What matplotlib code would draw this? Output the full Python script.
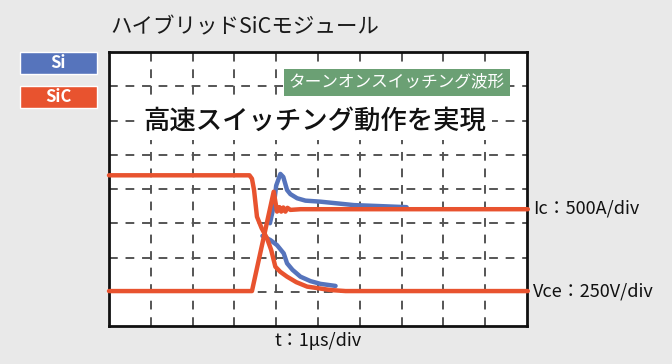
import matplotlib
matplotlib.use("Agg")
import matplotlib.pyplot as plt
import numpy as np

plt.rcParams['font.family'] = ['Noto Sans CJK JP', 'DejaVu Sans']

# waveforms, x in divisions (1us/div), y in divisions from bottom
sic_vce_t = [0, 3.36, 3.42, 3.47, 3.54, 3.65, 3.78, 3.88, 3.98, 4.10, 4.26, 4.48, 4.74, 5.30, 5.66, 10.02]
sic_vce_y = [4.40, 4.40, 4.30, 3.97, 3.19, 2.86, 2.56, 2.22, 1.73, 1.58, 1.44, 1.28, 1.15, 1.05, 1.02, 1.02]

si_vce_t = [3.67, 3.86, 4.02, 4.18, 4.26, 4.39, 4.58, 4.82, 5.06, 5.42]
si_vce_y = [2.63, 2.51, 2.36, 2.12, 1.83, 1.64, 1.44, 1.31, 1.23, 1.17]

sic_ic_t = [0, 3.42, 3.94, 4.02, 4.08, 4.12, 4.17, 4.22, 4.27, 4.34, 4.58, 10.02]
sic_ic_y = [1.02, 1.02, 3.92, 3.34, 3.47, 3.34, 3.46, 3.34, 3.45, 3.39, 3.41, 3.41]

si_ic_t = [3.85, 3.94, 4.00, 4.10, 4.17, 4.26, 4.34, 4.50, 4.70, 5.06, 5.86, 6.50, 7.12]
si_ic_y = [3.00, 3.50, 4.10, 4.44, 4.35, 3.97, 3.85, 3.73, 3.66, 3.63, 3.53, 3.50, 3.47]

red = '#E8532F'
blue = '#5674BC'
green = '#6BA074'

fig = plt.figure(figsize=(6.72, 3.64), dpi=100)
fig.patch.set_facecolor('#E9E9E9')

ax = fig.add_axes([109/672, 38/364, 418/672, 274/364])
ax.set_facecolor('white')
ax.set_xlim(0, 10)
ax.set_ylim(0, 8)
for s in ax.spines.values():
    s.set_linewidth(2)
    s.set_color('#111111')
ax.set_xticks([])
ax.set_yticks([])

# oscilloscope grid
for gx in range(1, 10):
    ax.axvline(gx, color='#555555', lw=1.4, dashes=(4.5, 4), zorder=1)
for gy in range(1, 8):
    ax.axhline(gy, color='#555555', lw=1.4, dashes=(4.5, 4), zorder=1)

ax.plot(si_vce_t, si_vce_y, color=blue, lw=3.2, solid_capstyle='round', zorder=3)
ax.plot(si_ic_t, si_ic_y, color=blue, lw=3.2, solid_capstyle='round', zorder=3)
ax.plot(sic_vce_t, sic_vce_y, color=red, lw=3.2, solid_capstyle='round', zorder=4, clip_on=False)
ax.plot(sic_ic_t, sic_ic_y, color=red, lw=3.2, solid_capstyle='round', zorder=4, clip_on=False)

# texts
fig.text(110/672, 1 - 27/364, 'ハイブリッドSiCモジュール', fontsize=15.5, color='#1a1a1a',
         va='center', ha='left')
fig.text(315/672, 1 - 121/364, '高速スイッチング動作を実現', fontsize=19, color='#111111',
         fontweight='medium', va='center', ha='center',
         bbox=dict(boxstyle='square,pad=0.2', fc='white', ec='none'))
fig.text(397/672, 1 - 82/364, 'ターンオンスイッチング波形', fontsize=12, color='white',
         va='center', ha='center',
         bbox=dict(boxstyle='square,pad=0.3', fc=green, ec='none'))
fig.text(533/672, 1 - 209/364, 'Ic：500A/div', fontsize=13, color='#111111', va='center', ha='left')
fig.text(533/672, 1 - 291/364, 'Vce：250V/div', fontsize=13, color='#111111', va='center', ha='left')
fig.text(318/672, 1 - 341/364, 't：1μs/div', fontsize=13, color='#111111', va='center', ha='center')

# legend boxes
leg_names = ['Si', 'SiC']
leg_colors = [blue, red]
for i, (name, c) in enumerate(zip(leg_names, leg_colors)):
    y0 = 52 + i * 34
    fig.patches.append(plt.Rectangle((20/672, 1 - (y0 + 22)/364), 77/672, 22/364,
                                     transform=fig.transFigure, fc=c, ec='white', lw=1))
    fig.text(58/672, 1 - (y0 + 11)/364, name, fontsize=12, color='white', fontweight='bold',
             va='center', ha='center')

fig.savefig('out.png', dpi=100, facecolor=fig.get_facecolor())
